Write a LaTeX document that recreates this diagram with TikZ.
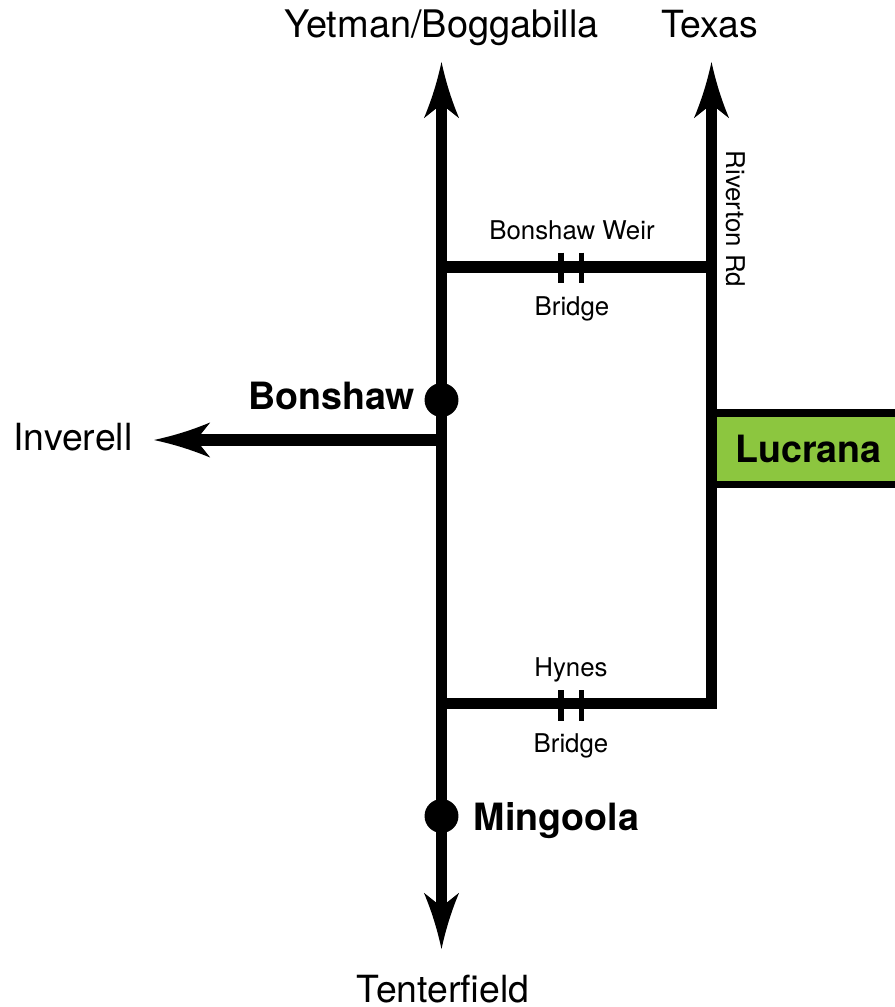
\documentclass[tikz,border=0pt]{standalone}
\usepackage{fontspec}
\setmainfont{TeX Gyre Heros}
\usetikzlibrary{arrows.meta}
\makeatletter
\pgfdeclarearrow{
  name = RoadTip,
  setup code = {
    \pgfarrowssettipend{0pt}
    \pgfarrowssetbackend{-32pt}
    \pgfarrowssetlineend{-24pt}
  },
  drawing code = {
    \pgfpathmoveto{\pgfqpoint{0pt}{0pt}}
    \pgfpathcurveto{\pgfqpoint{-10pt}{2.2pt}}{\pgfqpoint{-20pt}{5pt}}{\pgfqpoint{-32pt}{10pt}}
    \pgfpathlineto{\pgfqpoint{-24pt}{0pt}}
    \pgfpathlineto{\pgfqpoint{-32pt}{-10pt}}
    \pgfpathcurveto{\pgfqpoint{-20pt}{-5pt}}{\pgfqpoint{-10pt}{-2.2pt}}{\pgfqpoint{0pt}{0pt}}
    \pgfpathclose
    \pgfusepathqfill
  }
}
\makeatother
\tikzset{
  road/.style = {line width=6.5pt, miter limit=10},
  tick/.style = {line width=2.9pt},
  town/.style = {circle, fill=black, inner sep=0pt, minimum size=19.3pt},
  bigtext/.style = {anchor=base, inner sep=0pt, font=\fontsize{21.3}{24}\selectfont},
  smalltext/.style = {anchor=base, inner sep=0pt, font=\fontsize{14.7}{17}\selectfont},
  placetext/.style = {anchor=base, inner sep=0pt, font=\bfseries\fontsize{21.4}{24}\selectfont}
}
\definecolor{lucranagreen}{HTML}{8CC63F}
\begin{document}
\begin{tikzpicture}[x=0.02cm,y=-0.02cm]
        \useasboundingbox (0,0) rectangle (895,1007);
        \clip (0,0) rectangle (895,1007);
        % roads
        \coordinate (yetman) at (441.5,62);
        \coordinate (tenterfieldend) at (441.5,949);
        \coordinate (texas) at (711.5,62);
        \coordinate (weirwest) at (441.5,267);
        \coordinate (weireast) at (711.5,267);
        \coordinate (hyneswest) at (441.5,703.5);
        \coordinate (hyneseast) at (711.5,703.5);
        \coordinate (inverellfork) at (441.5,440);
        \coordinate (inverellend) at (154,440);
        % town on the right goes under the road
        \node[draw=black, line width=4.2pt, fill=lucranagreen, inner sep=0pt,
            minimum width=4.6cm, minimum height=1.43cm] (lucranabox) at (826,448.75) {};
        \draw[road, {RoadTip}-{RoadTip}] (yetman) -- (tenterfieldend);
        \draw[road, -{RoadTip}] (inverellfork) -- (inverellend);
        \draw[road, -{RoadTip}] (hyneswest) -- (hyneseast) -- (texas);
        \draw[road] (weirwest) -- (weireast);
        % bridges
        \foreach \ya/\yb/\name in {252.5/283/weir, 690/720.5/hynes} {
            \coordinate (\name a) at (561,\ya);
            \coordinate (\name b) at (561,\yb);
            \coordinate (\name c) at (581.5,\ya);
            \coordinate (\name d) at (581.5,\yb);
            \draw[tick] (\name a) -- (\name b);
            \draw[tick] (\name c) -- (\name d);
        }
        % towns
        \node[town] (bonshaw) at (441.5,400) {};
        \node[town] (mingoola) at (441.5,816) {};
        % labels
        \node[bigtext, font=\fontsize{21.6}{24}\selectfont] (yetmanlabel) at (441.5,38) {Yetman/Boggabilla};
        \node[bigtext] (texaslabel) at (710,38) {Texas};
        \node[bigtext] (inverelllabel) at (73,450) {Inverell};
        \node[bigtext] (tenterfieldlabel) at (443,1002) {Tenterfield};
        \node[smalltext] (weirlabel) at (572,239) {Bonshaw Weir};
        \node[smalltext] (weirbridgelabel) at (572,315) {Bridge};
        \node[smalltext] (hyneslabel) at (571,676) {Hynes};
        \node[smalltext] (hynesbridgelabel) at (571,752) {Bridge};
        \node[smalltext, rotate=-90] (rivertonlabel) at (726,219) {Riverton Rd};
        \node[placetext] (bonshawlabel) at (331.5,409) {Bonshaw};
        \node[placetext] (mingoolalabel) at (556.5,830) {Mingoola};
        \node[placetext] (lucranalabel) at (808.5,462) {Lucrana};
    \end{tikzpicture}
\end{document}
